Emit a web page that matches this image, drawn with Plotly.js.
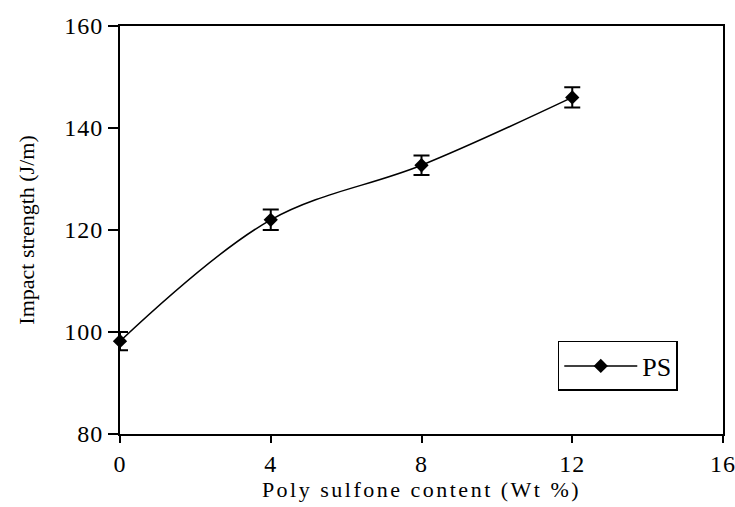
<!DOCTYPE html>
<html>
<head>
<meta charset="utf-8">
<script src="https://cdn.plot.ly/plotly-3.0.1.min.js"></script>
<style>
html,body{margin:0;padding:0;background:#fff;}
#chart{width:735px;height:507px;}
#chart .xtitle{letter-spacing:2.5px;}
#chart .xtick text, #chart .ytick text{letter-spacing:1px;}
</style>
</head>
<body>
<div id="chart"></div>
<script>
const content = [0, 4, 8, 12];
const impactStrength = [98.2, 122.0, 132.7, 146.0];
const errorValues = [1.8, 2.0, 1.9, 2.0];
const seriesName = 'PS';
const xTicks = [0, 4, 8, 12, 16];
const yTicks = [80, 100, 120, 140, 160];

const fontFam = '"Liberation Serif", "Times New Roman", serif';

const trace = {
  x: content,
  y: impactStrength,
  name: seriesName,
  type: 'scatter',
  mode: 'lines+markers',
  line: {color: '#000', width: 1.5, shape: 'spline', smoothing: 1},
  marker: {symbol: 'diamond', size: 11, color: '#000'},
  error_y: {type: 'data', array: errorValues, visible: true, color: '#000', thickness: 2, width: 8},
  cliponaxis: false
};

const layout = {
  width: 735,
  height: 507,
  margin: {l: 120, r: 12, t: 26, b: 73},
  paper_bgcolor: '#fff',
  plot_bgcolor: '#fff',
  font: {family: fontFam, size: 20, color: '#000'},
  showlegend: true,
  legend: {
    x: 0.726, y: 0.228, xanchor: 'left', yanchor: 'top',
    bordercolor: '#000', borderwidth: 1.5, bgcolor: '#fff',
    font: {family: fontFam, size: 26, color: '#000'},
    itemwidth: 73
  },
  xaxis: {
    range: [0, 16],
    tickvals: xTicks,
    ticktext: xTicks.map(String),
    showgrid: false, zeroline: false,
    showline: true, linecolor: '#000', linewidth: 2, mirror: true,
    ticks: 'outside', ticklen: 7, tickwidth: 2, tickcolor: '#000',
    tickfont: {family: fontFam, size: 24, color: '#000'},
    title: {text: 'Poly sulfone content (Wt %)', font: {family: fontFam, size: 22, color: '#000'}, standoff: 2}
  },
  yaxis: {
    range: [80, 160],
    tickvals: yTicks,
    ticktext: yTicks.map(String),
    showgrid: false, zeroline: false,
    showline: true, linecolor: '#000', linewidth: 2, mirror: true,
    ticks: 'outside', ticklen: 10, tickwidth: 2, tickcolor: '#000',
    tickfont: {family: fontFam, size: 24, color: '#000'},
    title: {text: 'Impact strength (J/m)', font: {family: fontFam, size: 22, color: '#000'}, standoff: 27}
  }
};

Plotly.newPlot('chart', [trace], layout, {displayModeBar: false, staticPlot: true});
</script>
</body>
</html>
